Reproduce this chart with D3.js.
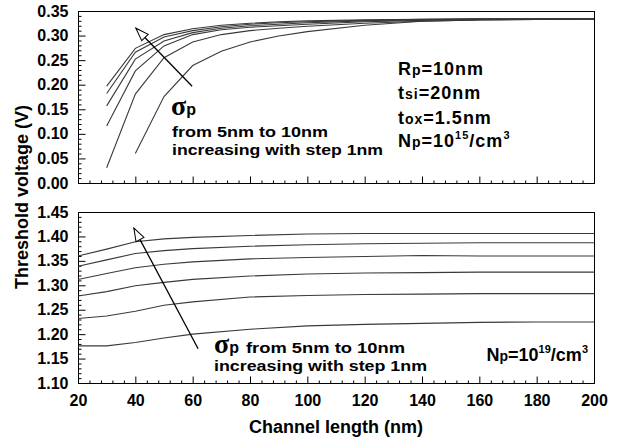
<!DOCTYPE html>
<html><head><meta charset="utf-8">
<script src="https://cdn.jsdelivr.net/npm/d3@7"></script>
<style>
body{margin:0;background:#fff}
text{font-family:"Liberation Sans",Arial,sans-serif;font-weight:bold;fill:#000}
</style>
</head><body><svg id="c" width="620" height="440"></svg>
<script>
// ---------- data ----------
const xTickValues = [20,40,60,80,100,120,140,160,180,200];
const topTickValues = [0.00,0.05,0.10,0.15,0.20,0.25,0.30,0.35];
const bottomTickValues = [1.10,1.15,1.20,1.25,1.30,1.35,1.40,1.45];
const sigmas = [5,6,7,8,9,10];

// Np = 1e15 /cm3 : channel length points (nm)
const topLength = [30,40,50,60,70,80,90,100,120,140,160,180,200];
const topVth5  = [null,0.060,0.176,0.239,0.268,0.287,0.299,0.308,0.321,0.329,0.332,0.333,0.334];
const topVth6  = [0.031,0.181,0.255,0.287,0.302,0.310,0.315,0.319,0.325,0.329,0.332,0.333,0.334];
const topVth7  = [0.116,0.228,0.279,0.302,0.312,0.317,0.320,0.323,0.328,0.331,0.333,0.333,0.334];
const topVth8  = [0.157,0.252,0.289,0.306,0.315,0.320,0.323,0.326,0.330,0.332,0.333,0.334,0.334];
const topVth9  = [0.182,0.266,0.297,0.310,0.318,0.323,0.326,0.328,0.331,0.333,0.334,0.334,0.334];
const topVth10 = [0.197,0.274,0.302,0.314,0.321,0.325,0.328,0.330,0.332,0.333,0.334,0.334,0.334];

// Np = 1e19 /cm3
const bottomLength = [20,30,40,50,60,80,100,120,140,160,180,200];
const bottomVth5  = [1.176,1.176,1.183,1.192,1.200,1.210,1.217,1.220,1.222,1.224,1.225,1.225];
const bottomVth6  = [1.232,1.237,1.247,1.259,1.266,1.276,1.279,1.281,1.282,1.283,1.283,1.283];
const bottomVth7  = [1.278,1.287,1.299,1.306,1.312,1.319,1.323,1.325,1.326,1.327,1.327,1.327];
const bottomVth8  = [1.312,1.324,1.336,1.343,1.348,1.354,1.357,1.359,1.361,1.360,1.360,1.360];
const bottomVth9  = [1.339,1.352,1.365,1.371,1.375,1.380,1.383,1.385,1.386,1.387,1.387,1.387];
const bottomVth10 = [1.360,1.374,1.389,1.395,1.398,1.402,1.405,1.406,1.406,1.406,1.406,1.406];

const topSeries = [topVth5,topVth6,topVth7,topVth8,topVth9,topVth10];
const bottomSeries = [bottomVth5,bottomVth6,bottomVth7,bottomVth8,bottomVth9,bottomVth10];

// arrows (data coordinates: [length, Vth])
const topArrow = [[59.8,0.197],[40.2,0.315]];
const bottomArrow = [[61.9,1.170],[39.5,1.417]];

// ---------- drawing ----------
const svg = d3.select('#c');
const L = 78, R = 594;
const x = d3.scaleLinear().domain([20,200]).range([L,R]);
const yTop = d3.scaleLinear().domain([0,0.35]).range([183,11]);
const yBot = d3.scaleLinear().domain([1.10,1.45]).range([383,212]);

const defs = svg.append('defs');
defs.append('marker').attr('id','head')
  .attr('viewBox','-14 -7 16 14').attr('refX',0).attr('refY',0)
  .attr('markerWidth',16).attr('markerHeight',14).attr('markerUnits','userSpaceOnUse')
  .attr('orient','auto')
  .append('path').attr('d','M0,0 L-13,-4.5 L-13,4.5 Z')
  .attr('fill','#fff').attr('stroke','#000').attr('stroke-width',1);

function panel(y, yTicks, series, lengths, arrow, showXLabels){
  const g = svg.append('g');
  const [y0,y1] = y.range();
  const dom = y.domain();
  g.append('rect').attr('x',L+0.5).attr('y',y1+0.5).attr('width',R-L).attr('height',y0-y1)
    .attr('fill','none').attr('stroke','#000').attr('stroke-width',1);

  const xMinor = d3.range(20,201,4).filter(v => v % 20 !== 0);
  g.append('g').attr('transform',`translate(0,${y0+0.5})`)
    .call(d3.axisBottom(x).tickValues(xMinor).tickSize(-3).tickFormat(''))
    .call(s=>s.select('.domain').remove());
  const yMinor = d3.range(0,36).map(i => +(dom[0]+i*0.01).toFixed(2)).filter((v,i)=> i%5!==0);
  g.append('g').attr('transform',`translate(${L+0.5},0)`)
    .call(d3.axisLeft(y).tickValues(yMinor).tickSize(-3).tickFormat(''))
    .call(s=>s.select('.domain').remove());

  const xa = g.append('g').attr('transform',`translate(0,${y0+0.5})`)
    .call(d3.axisBottom(x).tickValues(xTickValues).tickSize(-7).tickPadding(11)
      .tickFormat(showXLabels ? d3.format('d') : ''))
    .call(s=>s.select('.domain').remove());
  xa.selectAll('text').attr('font-size',16).attr('font-family','Liberation Sans, Arial, sans-serif');
  const ya = g.append('g').attr('transform',`translate(${L+0.5},0)`)
    .call(d3.axisLeft(y).tickValues(yTicks).tickSize(-7).tickPadding(10).tickFormat(d3.format('.2f')))
    .call(s=>s.select('.domain').remove());
  ya.selectAll('text').attr('font-size',16).attr('font-family','Liberation Sans, Arial, sans-serif');
  g.selectAll('.tick line').attr('stroke','#000');

  const line = d3.line().defined(d => d[1] != null).x(d => x(d[0])).y(d => y(d[1]));
  g.selectAll('path.curve').data(series).join('path').attr('class','curve')
    .attr('d', s => line(lengths.map((l,i)=>[l,s[i]])))
    .attr('fill','none').attr('stroke','#3a3a3a').attr('stroke-width',1.1);

  g.append('line')
    .attr('x1',x(arrow[0][0])).attr('y1',y(arrow[0][1]))
    .attr('x2',x(arrow[1][0])).attr('y2',y(arrow[1][1]))
    .attr('stroke','#000').attr('stroke-width',1.3).attr('marker-end','url(#head)');
  return g;
}

panel(yTop, topTickValues, topSeries, topLength, topArrow, false);
panel(yBot, bottomTickValues, bottomSeries, bottomLength, bottomArrow, true);

svg.append('text').attr('x',336).attr('y',433).attr('text-anchor','middle')
  .attr('font-size',18).text('Channel length (nm)');
svg.append('text').attr('transform','translate(28,197) rotate(-90)').attr('text-anchor','middle')
  .attr('font-size',18).text('Threshold voltage (V)');

function sigmaP(xx, yy){
  const t = svg.append('text').attr('x',xx).attr('y',yy);
  t.append('tspan').attr('font-family','Liberation Serif, Times New Roman, serif').attr('font-size',28).text('σ');
  t.append('tspan').attr('font-size',16).attr('dx',0).text('p');
  return t;
}

// ---------- annotations top ----------
sigmaP(171,115);
svg.append('text').attr('x',172).attr('y',137).attr('font-size',15)
  .attr('textLength',156).attr('lengthAdjust','spacingAndGlyphs').text('from 5nm to 10nm');
svg.append('text').attr('x',172).attr('y',155).attr('font-size',15)
  .attr('textLength',211).attr('lengthAdjust','spacingAndGlyphs').text('increasing with step 1nm');

function param(yy, parts){
  const t = svg.append('text').attr('x',398).attr('y',yy).attr('font-size',18).attr('letter-spacing',1);
  parts.forEach(p=>{
    const ts = t.append('tspan').text(p[0]);
    if(p[1]==='sub') ts.attr('font-size',14);
    if(p[1]==='sup') ts.attr('font-size',11).attr('dy',-8);
    if(p[1]==='after') ts.attr('dy',8);
  });
  return t;
}
param(75,[['R'],['p','sub'],['=10nm']]);
param(99,[['t'],['si','sub'],['=20nm']]);
param(124,[['t'],['ox','sub'],['=1.5nm']]);
param(147,[['N'],['p','sub'],['=10'],['15','sup'],['/cm','after'],['3','sup']]);

// ---------- annotations bottom ----------
sigmaP(214,353);
svg.append('text').attr('x',246).attr('y',353).attr('font-size',15)
  .attr('textLength',159).attr('lengthAdjust','spacingAndGlyphs').text('from 5nm to 10nm');
svg.append('text').attr('x',214).attr('y',371).attr('font-size',15)
  .attr('textLength',213).attr('lengthAdjust','spacingAndGlyphs').text('increasing with step 1nm');
const np = svg.append('text').attr('x',588).attr('y',361).attr('font-size',18).attr('text-anchor','end');
np.append('tspan').text('N');
np.append('tspan').attr('font-size',14).text('p');
np.append('tspan').text('=10');
np.append('tspan').attr('font-size',11).attr('dy',-8).text('19');
np.append('tspan').attr('dy',8).text('/cm');
np.append('tspan').attr('font-size',11).attr('dy',-8).text('3');
</script>
</body></html>
